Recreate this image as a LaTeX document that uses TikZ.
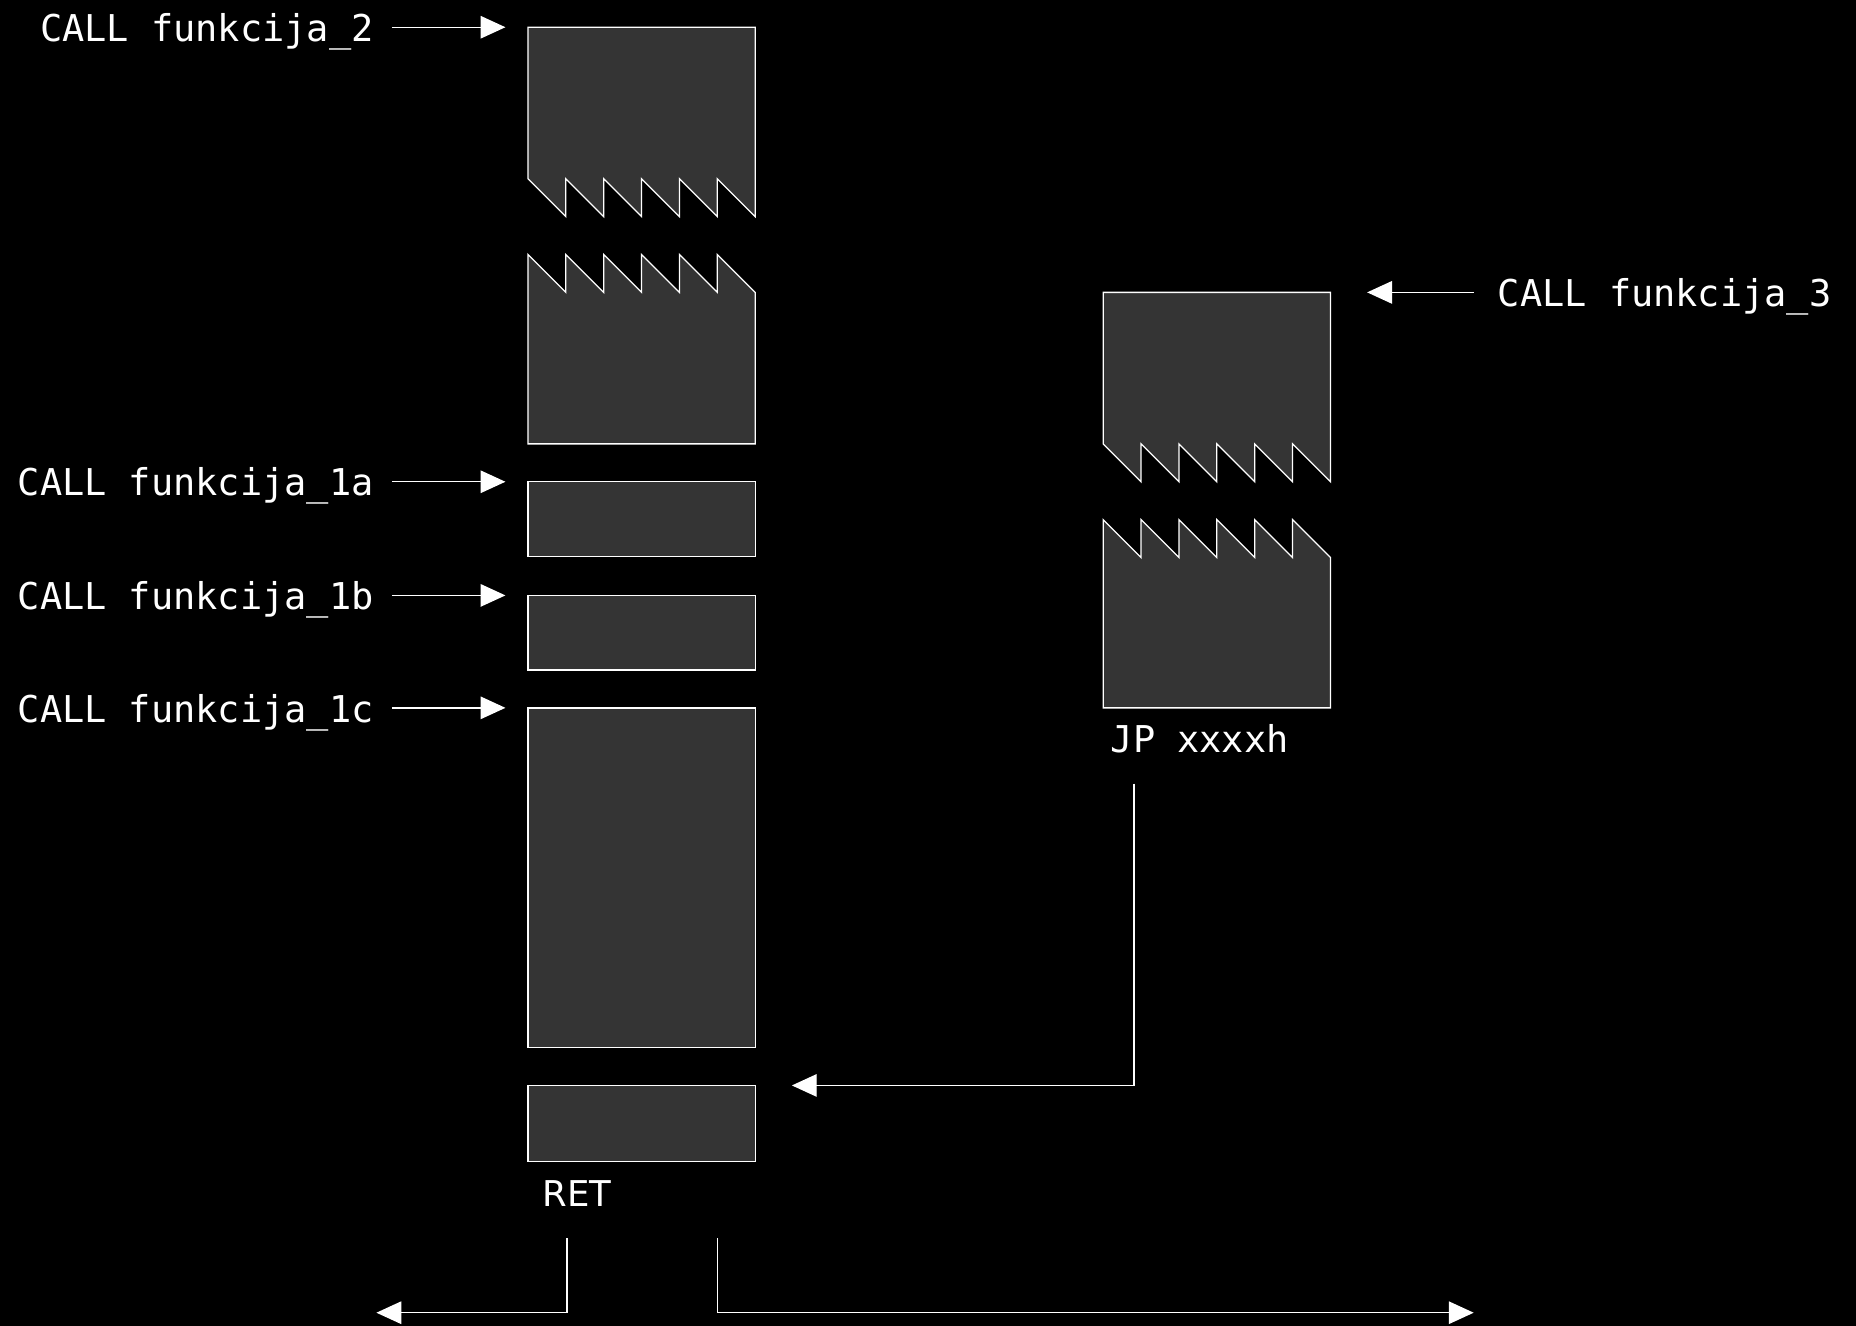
\documentclass[tikz,border=0pt]{standalone}
\usepackage{fontspec}
\usetikzlibrary{arrows.meta}
\newfontfamily\monof{DejaVu Sans Mono}
\newfontfamily\sansf{DejaVu Sans}
\definecolor{boxfill}{HTML}{343434}
\begin{document}
\begin{tikzpicture}[x=0.5pt,y=-0.5pt,
  box/.style={draw=white,fill=boxfill,line width=0.55pt,line join=miter},
  conn/.style={draw=white,line width=0.6pt,-{Triangle[length=10.5pt,width=9.5pt]}},
  lbl/.style={text=white,font=\monof\fontsize{15.6pt}{18pt}\selectfont,inner sep=0pt},
  slbl/.style={text=white,font=\sansf\fontsize{15pt}{18pt}\selectfont,inner sep=0pt}]
\fill[black] (0,0) rectangle (1568,1120);
\useasboundingbox (0,0) rectangle (1568,1120);

% left column
\draw[box] (446,23) -- (638,23) -- (638,183) -- (606,151) -- (606,183) -- (574,151) -- (574,183)
  -- (542,151) -- (542,183) -- (510,151) -- (510,183) -- (478,151) -- (478,183) -- (446,151) -- cycle;
\draw[box] (446,375) -- (446,215) -- (478,247) -- (478,215) -- (510,247) -- (510,215) -- (542,247)
  -- (542,215) -- (574,247) -- (574,215) -- (606,247) -- (606,215) -- (638,247) -- (638,375) -- cycle;
\draw[box] (446,407) rectangle (638,470);
\draw[box] (446,503) rectangle (638,566);
\draw[box] (446,598) rectangle (638,885);
\draw[box] (446,917) rectangle (638,981);

% right column
\draw[box] (932,247) -- (1124,247) -- (1124,407) -- (1092,375) -- (1092,407) -- (1060,375) -- (1060,407)
  -- (1028,375) -- (1028,407) -- (996,375) -- (996,407) -- (964,375) -- (964,407) -- (932,375) -- cycle;
\draw[box] (932,598) -- (932,439) -- (964,471) -- (964,439) -- (996,471) -- (996,439) -- (1028,471)
  -- (1028,439) -- (1060,471) -- (1060,439) -- (1092,471) -- (1092,439) -- (1124,471) -- (1124,598) -- cycle;

% labels
\node[lbl,anchor=base east] (c2) at (316,35) {CALL funkcija\_2};
\node[lbl,anchor=base east] (c1a) at (316,419) {CALL funkcija\_1a};
\node[lbl,anchor=base east] (c1b) at (316,515) {CALL funkcija\_1b};
\node[lbl,anchor=base east] (c1c) at (316,610) {CALL funkcija\_1c};
\node[lbl,anchor=base west] (c3) at (1265,259) {CALL funkcija\_3};
\node[lbl,anchor=base west] (jp) at (938,636) {JP xxxxh};
\node[slbl,anchor=base west] (ret) at (458,1019) {RET};

% connector end points
\coordinate (s2) at (331,23);   \coordinate (t2) at (427,23);
\coordinate (s1a) at (331,407); \coordinate (t1a) at (427,407);
\coordinate (s1b) at (331,503); \coordinate (t1b) at (427,503);
\coordinate (s1c) at (331,598); \coordinate (t1c) at (427,598);
\coordinate (s3) at (1245,247); \coordinate (t3) at (1155,247);
\coordinate (sj) at (958,662);  \coordinate (tj) at (669,917);
\coordinate (sl) at (479,1046); \coordinate (tl) at (318,1109);
\coordinate (sr) at (606,1046); \coordinate (tr) at (1245,1109);

\draw[conn] (s2) -- (t2);
\draw[conn] (s1a) -- (t1a);
\draw[conn] (s1b) -- (t1b);
\draw[conn] (s1c) -- (t1c);
\draw[conn] (s3) -- (t3);
\draw[conn] (sj) |- (tj);
\draw[conn] (sl) |- (tl);
\draw[conn] (sr) |- (tr);
\end{tikzpicture}
\end{document}
